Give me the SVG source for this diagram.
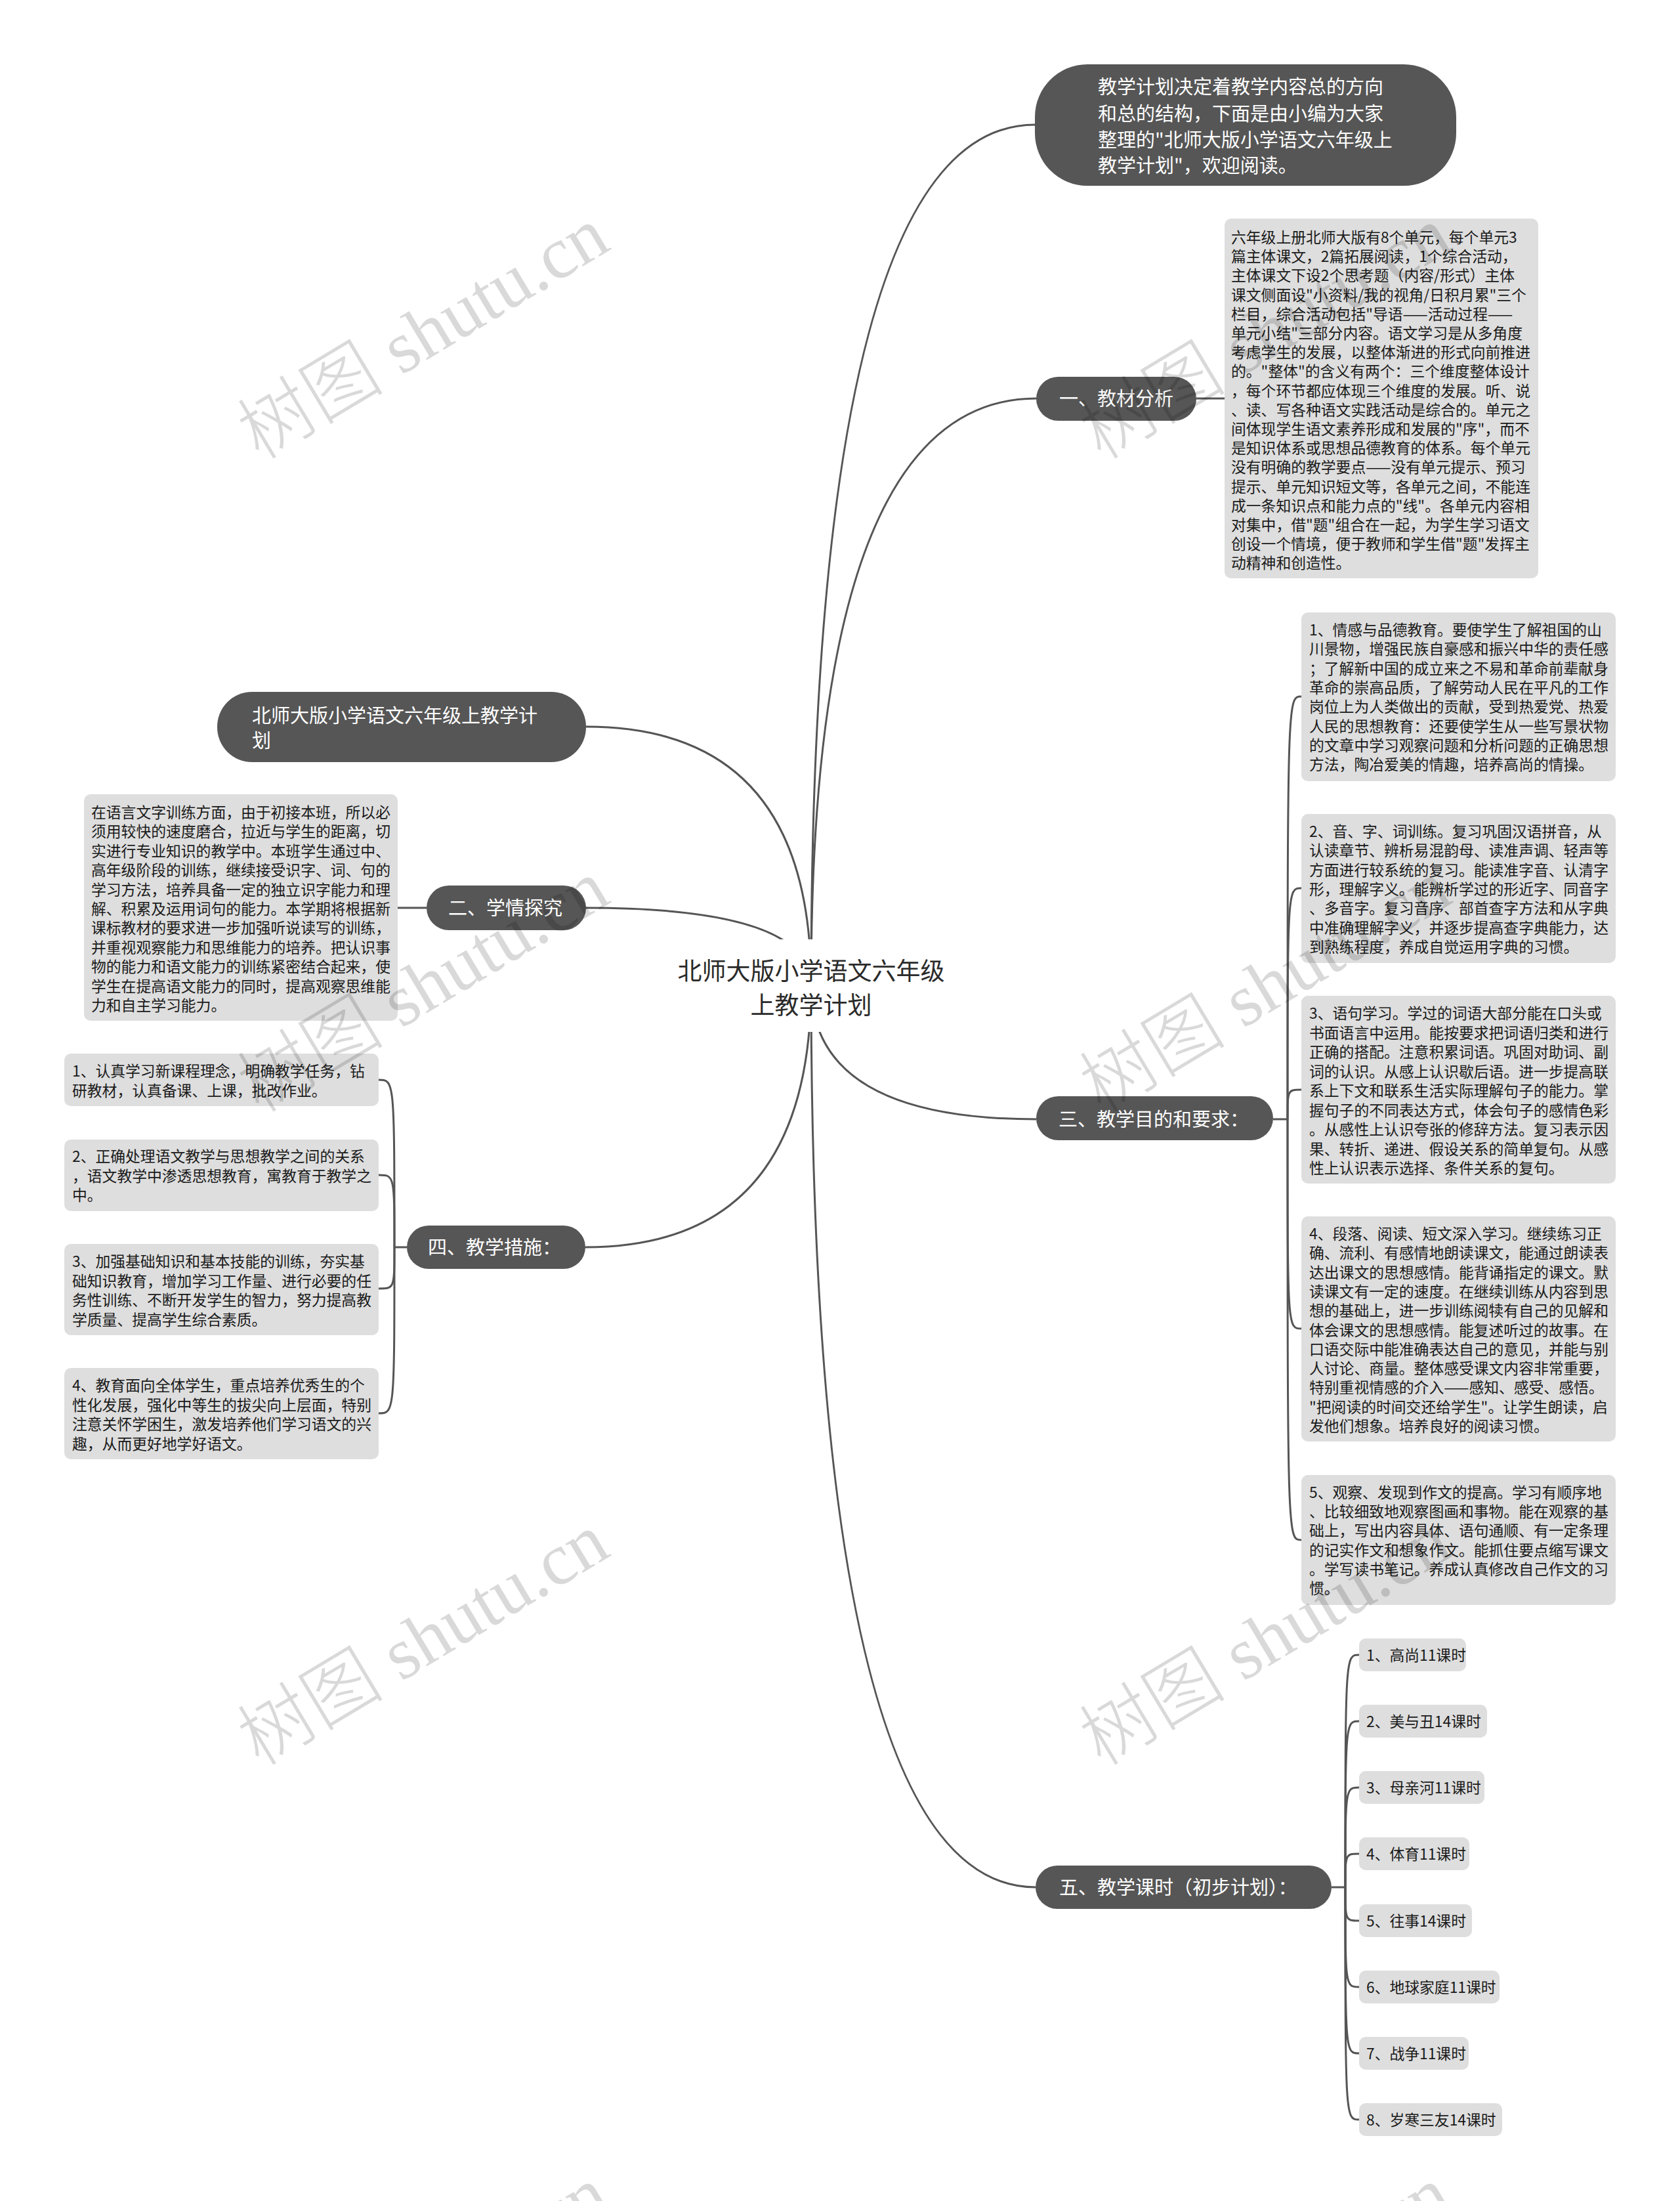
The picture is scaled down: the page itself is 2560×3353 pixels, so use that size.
<svg xmlns="http://www.w3.org/2000/svg" xmlns:xlink="http://www.w3.org/1999/xlink" width="2560" height="3353" viewBox="0 0 2560 3353">
<defs>
<style>
.dark{fill:#565656}
.dt{fill:#ffffff;font-family:"Noto Sans CJK SC","Noto Sans",sans-serif;font-size:29px}
.leaf{fill:#dedede}
.lt{fill:#1a1a1a;font-family:"Noto Sans CJK SC","Noto Sans",sans-serif;font-size:22.8px}
.root{fill:#2a2a2a;font-family:"Noto Sans CJK SC","Noto Sans",sans-serif;font-size:37px}
.con{fill:none;stroke:#555555;stroke-width:3}
.wm{fill:#000000;fill-opacity:0.15;font-family:"Liberation Serif","Noto Sans CJK SC",serif;font-size:112px;font-weight:300}
</style>
<g id="wm"><text class="wm" transform="translate(395,702) rotate(-31)">树图 shutu.cn</text></g>
</defs>
<rect width="2560" height="3353" fill="#ffffff"/>

<g id="connectors">
<path class="con" d="M1236 1500 Q1236 190 1577 190"/>
<path class="con" d="M1236 1500 Q1236 607 1579 607"/>
<path class="con" d="M1236 1500 Q1236 1107 893 1107"/>
<path class="con" d="M1236 1500 Q1236 1383 893 1383"/>
<path class="con" d="M1236 1500 Q1236 1705 1579 1705"/>
<path class="con" d="M1236 1500 Q1236 1900 892 1900"/>
<path class="con" d="M1236 1500 Q1236 2875 1578 2875"/>
<path class="con" d="M1823 607 L1866 607"/>
<path class="con" d="M650 1383 L606 1383"/>
<path class="con" d="M1940 1705 L1962 1705"/>
<path class="con" d="M1962 1705 C1962 1061 1962 1061 1983 1061"/>
<path class="con" d="M1962 1705 C1962 1353 1962 1353 1983 1353"/>
<path class="con" d="M1962 1705 C1962 1660 1962 1660 1983 1660"/>
<path class="con" d="M1962 1705 C1962 2024 1962 2024 1983 2024"/>
<path class="con" d="M1962 1705 C1962 2346 1962 2346 1983 2346"/>
<path class="con" d="M620 1900 L601 1900"/>
<path class="con" d="M601 1900 C601 1645 601 1645 577 1645"/>
<path class="con" d="M601 1900 C601 1790 601 1790 577 1790"/>
<path class="con" d="M601 1900 C601 1963 601 1963 577 1963"/>
<path class="con" d="M601 1900 C601 2153 601 2153 577 2153"/>
<path class="con" d="M2029 2875 L2050 2875"/>
<path class="con" d="M2050 2875 C2050 2521 2050 2521 2071 2521"/>
<path class="con" d="M2050 2875 C2050 2622 2050 2622 2071 2622"/>
<path class="con" d="M2050 2875 C2050 2723 2050 2723 2071 2723"/>
<path class="con" d="M2050 2875 C2050 2824 2050 2824 2071 2824"/>
<path class="con" d="M2050 2875 C2050 2926 2050 2926 2071 2926"/>
<path class="con" d="M2050 2875 C2050 3027 2050 3027 2071 3027"/>
<path class="con" d="M2050 2875 C2050 3128 2050 3128 2071 3128"/>
<path class="con" d="M2050 2875 C2050 3229 2050 3229 2071 3229"/>
</g>

<g id="root">
<rect x="995" y="1431" width="482" height="141" fill="#ffffff"/>
<text class="root" text-anchor="middle" x="1236" y="1493">北师大版小学语文六年级</text>
<text class="root" text-anchor="middle" x="1236" y="1545">上教学计划</text>
</g>

<g id="intro">
<rect class="dark" x="1577" y="98" width="642" height="185" rx="80"/>
<text class="dt"><tspan x="1673" y="143">教学计划决定着教学内容总的方向</tspan><tspan x="1673" y="184">和总的结构，下面是由小编为大家</tspan><tspan x="1673" y="224">整理的"北师大版小学语文六年级上</tspan><tspan x="1673" y="263">教学计划"，欢迎阅读。</tspan></text>
</g>

<g id="n1">
<rect class="dark" x="1579" y="574" width="244" height="67" rx="33.5"/>
<text class="dt" x="1614" y="618">一、教材分析</text>
</g>
<g id="n1a">
<rect class="leaf" x="1866" y="333" width="478" height="548" rx="10"/>
<text class="lt"><tspan x="1876" y="370">六年级上册北师大版有8个单元，每个单元3</tspan><tspan x="1876" y="399.2">篇主体课文，2篇拓展阅读，1个综合活动，</tspan><tspan x="1876" y="428.4">主体课文下设2个思考题（内容/形式）主体</tspan><tspan x="1876" y="457.6">课文侧面设"小资料/我的视角/日积月累"三个</tspan><tspan x="1876" y="486.8">栏目，综合活动包括"导语——活动过程——</tspan><tspan x="1876" y="516">单元小结"三部分内容。语文学习是从多角度</tspan><tspan x="1876" y="545.2">考虑学生的发展，以整体渐进的形式向前推进</tspan><tspan x="1876" y="574.4">的。"整体"的含义有两个：三个维度整体设计</tspan><tspan x="1876" y="603.6">，每个环节都应体现三个维度的发展。听、说</tspan><tspan x="1876" y="632.8">、读、写各种语文实践活动是综合的。单元之</tspan><tspan x="1876" y="662">间体现学生语文素养形成和发展的"序"，而不</tspan><tspan x="1876" y="691.2">是知识体系或思想品德教育的体系。每个单元</tspan><tspan x="1876" y="720.4">没有明确的教学要点——没有单元提示、预习</tspan><tspan x="1876" y="749.6">提示、单元知识短文等，各单元之间，不能连</tspan><tspan x="1876" y="778.8">成一条知识点和能力点的"线"。各单元内容相</tspan><tspan x="1876" y="808">对集中，借"题"组合在一起，为学生学习语文</tspan><tspan x="1876" y="837.2">创设一个情境，便于教师和学生借"题"发挥主</tspan><tspan x="1876" y="866.4">动精神和创造性。</tspan></text>
</g>

<g id="title-left">
<rect class="dark" x="331" y="1054" width="562" height="107" rx="53"/>
<text class="dt"><tspan x="384" y="1101">北师大版小学语文六年级上教学计</tspan><tspan x="384" y="1139">划</tspan></text>
</g>

<g id="n2">
<rect class="dark" x="650" y="1349" width="243" height="68" rx="34"/>
<text class="dt" x="683" y="1394">二、学情探究</text>
</g>
<g id="n2a">
<rect class="leaf" x="128" y="1210" width="478" height="345" rx="10"/>
<text class="lt"><tspan x="139" y="1246">在语言文字训练方面，由于初接本班，所以必</tspan><tspan x="139" y="1275.4">须用较快的速度磨合，拉近与学生的距离，切</tspan><tspan x="139" y="1304.8">实进行专业知识的教学中。本班学生通过中、</tspan><tspan x="139" y="1334.2">高年级阶段的训练，继续接受识字、词、句的</tspan><tspan x="139" y="1363.6">学习方法，培养具备一定的独立识字能力和理</tspan><tspan x="139" y="1393">解、积累及运用词句的能力。本学期将根据新</tspan><tspan x="139" y="1422.4">课标教材的要求进一步加强听说读写的训练，</tspan><tspan x="139" y="1451.8">并重视观察能力和思维能力的培养。把认识事</tspan><tspan x="139" y="1481.2">物的能力和语文能力的训练紧密结合起来，使</tspan><tspan x="139" y="1510.6">学生在提高语文能力的同时，提高观察思维能</tspan><tspan x="139" y="1540">力和自主学习能力。</tspan></text>
</g>

<g id="n3">
<rect class="dark" x="1579" y="1670" width="361" height="67" rx="33.5"/>
<text class="dt" x="1613" y="1716">三、教学目的和要求：</text>
</g>
<g id="n3a">
<rect class="leaf" x="1983" y="933" width="479" height="257" rx="10"/>
<text class="lt"><tspan x="1995" y="968">1、情感与品德教育。要使学生了解祖国的山</tspan><tspan x="1995" y="997.3">川景物，增强民族自豪感和振兴中华的责任感</tspan><tspan x="1995" y="1026.6">；了解新中国的成立来之不易和革命前辈献身</tspan><tspan x="1995" y="1055.9">革命的崇高品质，了解劳动人民在平凡的工作</tspan><tspan x="1995" y="1085.2">岗位上为人类做出的贡献，受到热爱党、热爱</tspan><tspan x="1995" y="1114.5">人民的思想教育：还要使学生从一些写景状物</tspan><tspan x="1995" y="1143.8">的文章中学习观察问题和分析问题的正确思想</tspan><tspan x="1995" y="1173.1">方法，陶冶爱美的情趣，培养高尚的情操。</tspan></text>
</g>
<g id="n3b">
<rect class="leaf" x="1983" y="1240" width="479" height="227" rx="10"/>
<text class="lt"><tspan x="1995" y="1275">2、音、字、词训练。复习巩固汉语拼音，从</tspan><tspan x="1995" y="1304.3">认读章节、辨析易混韵母、读准声调、轻声等</tspan><tspan x="1995" y="1333.6">方面进行较系统的复习。能读准字音、认清字</tspan><tspan x="1995" y="1362.9">形，理解字义。能辨析学过的形近字、同音字</tspan><tspan x="1995" y="1392.2">、多音字。复习音序、部首查字方法和从字典</tspan><tspan x="1995" y="1421.5">中准确理解字义，并逐步提高查字典能力，达</tspan><tspan x="1995" y="1450.8">到熟练程度，养成自觉运用字典的习惯。</tspan></text>
</g>
<g id="n3c">
<rect class="leaf" x="1983" y="1517" width="479" height="286" rx="10"/>
<text class="lt"><tspan x="1995" y="1552">3、语句学习。学过的词语大部分能在口头或</tspan><tspan x="1995" y="1581.5">书面语言中运用。能按要求把词语归类和进行</tspan><tspan x="1995" y="1611">正确的搭配。注意积累词语。巩固对助词、副</tspan><tspan x="1995" y="1640.5">词的认识。从感上认识歇后语。进一步提高联</tspan><tspan x="1995" y="1670">系上下文和联系生活实际理解句子的能力。掌</tspan><tspan x="1995" y="1699.5">握句子的不同表达方式，体会句子的感情色彩</tspan><tspan x="1995" y="1729">。从感性上认识夸张的修辞方法。复习表示因</tspan><tspan x="1995" y="1758.5">果、转折、递进、假设关系的简单复句。从感</tspan><tspan x="1995" y="1788">性上认识表示选择、条件关系的复句。</tspan></text>
</g>
<g id="n3d">
<rect class="leaf" x="1983" y="1853" width="479" height="343" rx="10"/>
<text class="lt"><tspan x="1995" y="1888">4、段落、阅读、短文深入学习。继续练习正</tspan><tspan x="1995" y="1917.3">确、流利、有感情地朗读课文，能通过朗读表</tspan><tspan x="1995" y="1946.6">达出课文的思想感情。能背诵指定的课文。默</tspan><tspan x="1995" y="1975.9">读课文有一定的速度。在继续训练从内容到思</tspan><tspan x="1995" y="2005.2">想的基础上，进一步训练阅犊有自己的见解和</tspan><tspan x="1995" y="2034.5">体会课文的思想感情。能复述听过的故事。在</tspan><tspan x="1995" y="2063.8">口语交际中能准确表达自己的意见，并能与别</tspan><tspan x="1995" y="2093.1">人讨论、商量。整体感受课文内容非常重要，</tspan><tspan x="1995" y="2122.4">特别重视情感的介入——感知、感受、感悟。</tspan><tspan x="1995" y="2151.7">"把阅读的时间交还给学生"。让学生朗读，启</tspan><tspan x="1995" y="2181">发他们想象。培养良好的阅读习惯。</tspan></text>
</g>
<g id="n3e">
<rect class="leaf" x="1983" y="2247" width="479" height="198" rx="10"/>
<text class="lt"><tspan x="1995" y="2282">5、观察、发现到作文的提高。学习有顺序地</tspan><tspan x="1995" y="2311.2">、比较细致地观察图画和事物。能在观察的基</tspan><tspan x="1995" y="2340.4">础上，写出内容具体、语句通顺、有一定条理</tspan><tspan x="1995" y="2369.6">的记实作文和想象作文。能抓住要点缩写课文</tspan><tspan x="1995" y="2398.8">。学写读书笔记。养成认真修改自己作文的习</tspan><tspan x="1995" y="2428">惯。</tspan></text>
</g>

<g id="n4">
<rect class="dark" x="620" y="1867" width="272" height="66" rx="33"/>
<text class="dt" x="652" y="1911">四、教学措施：</text>
</g>
<g id="n4a">
<rect class="leaf" x="98" y="1605" width="479" height="80" rx="10"/>
<text class="lt"><tspan x="110" y="1640">1、认真学习新课程理念，明确教学任务，钻</tspan><tspan x="110" y="1669.5">研教材，认真备课、上课，批改作业。</tspan></text>
</g>
<g id="n4b">
<rect class="leaf" x="98" y="1736" width="479" height="109" rx="10"/>
<text class="lt"><tspan x="110" y="1770">2、正确处理语文教学与思想教学之间的关系</tspan><tspan x="110" y="1799.5">，语文教学中渗透思想教育，寓教育于教学之</tspan><tspan x="110" y="1829">中。</tspan></text>
</g>
<g id="n4c">
<rect class="leaf" x="98" y="1895" width="479" height="139" rx="10"/>
<text class="lt"><tspan x="110" y="1930">3、加强基础知识和基本技能的训练，夯实基</tspan><tspan x="110" y="1959.5">础知识教育，增加学习工作量、进行必要的任</tspan><tspan x="110" y="1989">务性训练、不断开发学生的智力，努力提高教</tspan><tspan x="110" y="2018.5">学质量、提高学生综合素质。</tspan></text>
</g>
<g id="n4d">
<rect class="leaf" x="98" y="2084" width="479" height="139" rx="10"/>
<text class="lt"><tspan x="110" y="2119">4、教育面向全体学生，重点培养优秀生的个</tspan><tspan x="110" y="2148.5">性化发展，强化中等生的拔尖向上层面，特别</tspan><tspan x="110" y="2178">注意关怀学困生，激发培养他们学习语文的兴</tspan><tspan x="110" y="2207.5">趣，从而更好地学好语文。</tspan></text>
</g>

<g id="n5">
<rect class="dark" x="1578" y="2842" width="451" height="66" rx="33"/>
<text class="dt" x="1614" y="2886">五、教学课时（初步计划）：</text>
</g>
<g id="n5-1"><rect class="leaf" x="2071" y="2496" width="163" height="50" rx="10"/><text class="lt" x="2082" y="2530">1、高尚11课时</text></g>
<g id="n5-2"><rect class="leaf" x="2071" y="2597" width="195" height="50" rx="10"/><text class="lt" x="2082" y="2631">2、美与丑14课时</text></g>
<g id="n5-3"><rect class="leaf" x="2071" y="2698" width="191" height="50" rx="10"/><text class="lt" x="2082" y="2732">3、母亲河11课时</text></g>
<g id="n5-4"><rect class="leaf" x="2071" y="2799" width="168" height="50" rx="10"/><text class="lt" x="2082" y="2833">4、体育11课时</text></g>
<g id="n5-5"><rect class="leaf" x="2071" y="2901" width="172" height="50" rx="10"/><text class="lt" x="2082" y="2935">5、往事14课时</text></g>
<g id="n5-6"><rect class="leaf" x="2071" y="3002" width="214" height="50" rx="10"/><text class="lt" x="2082" y="3036">6、地球家庭11课时</text></g>
<g id="n5-7"><rect class="leaf" x="2071" y="3103" width="167" height="50" rx="10"/><text class="lt" x="2082" y="3137">7、战争11课时</text></g>
<g id="n5-8"><rect class="leaf" x="2071" y="3204" width="218" height="50" rx="10"/><text class="lt" x="2082" y="3238">8、岁寒三友14课时</text></g>

<g id="watermarks">
<use xlink:href="#wm"/>
<use xlink:href="#wm" x="1283" y="0"/>
<use xlink:href="#wm" x="0" y="995"/>
<use xlink:href="#wm" x="1283" y="995"/>
<use xlink:href="#wm" x="0" y="1990"/>
<use xlink:href="#wm" x="1283" y="1990"/>
<use xlink:href="#wm" x="0" y="2985"/>
<use xlink:href="#wm" x="1283" y="2985"/>
</g>
</svg>
